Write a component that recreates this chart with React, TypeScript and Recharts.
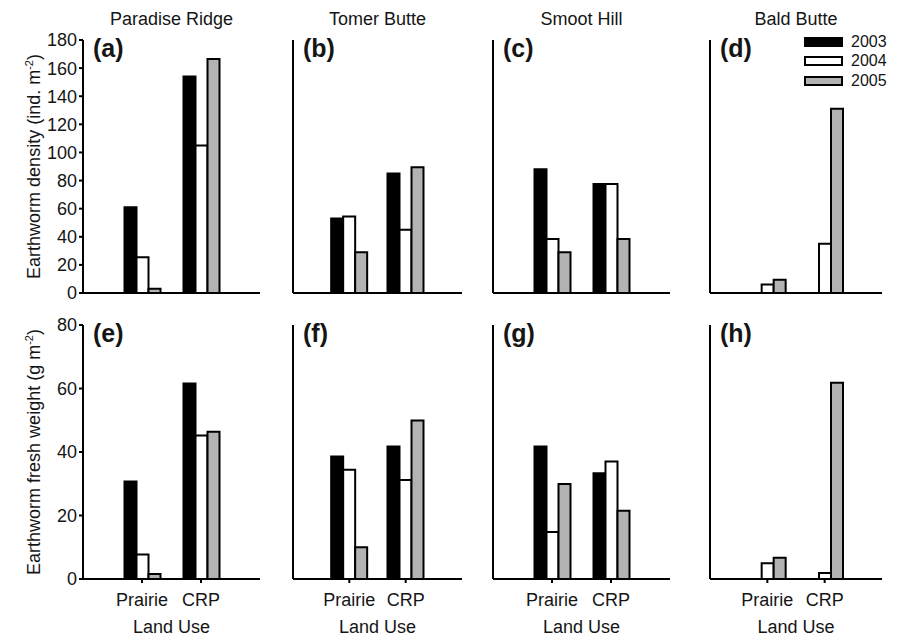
import React from "react";
import { BarChart, Bar, XAxis, YAxis, Legend } from "recharts";

const landUse = ["Prairie", "CRP"];
const sites = ["Paradise Ridge", "Tomer Butte", "Smoot Hill", "Bald Butte"];
const years = ["2003", "2004", "2005"];
const letters = ["a", "b", "c", "d", "e", "f", "g", "h"];

const densityTicks = [0, 20, 40, 60, 80, 100, 120, 140, 160, 180];
const weightTicks = [0, 20, 40, 60, 80];

// earthworm density (ind. m-2), [Prairie, CRP] for each site
const density2003 = [[61, 154], [53, 85], [88, 77.5], [0, 0]];
const density2004 = [[25.5, 105], [54.5, 45], [38.5, 77.5], [6, 35]];
const density2005 = [[3, 166.5], [29, 89.5], [29, 38.5], [9.5, 131]];

// earthworm fresh weight (g m-2)
const weight2003 = [[30.7, 61.6], [38.6, 41.7], [41.7, 33.3], [0, 0]];
const weight2004 = [[7.7, 45.2], [34.4, 31.2], [14.8, 37], [5, 1.9]];
const weight2005 = [[1.6, 46.4], [10, 49.9], [29.9, 21.5], [6.7, 61.8]];

const yearFill = ["#000000", "#ffffff", "#b3b3b3"];
const ink = "#151515";

// layout
const panelX = [83, 293, 493, 710];
const panelW = [177, 169, 177, 172];
const YW = 70;
const MR = 10;

const buildRows = (a: number[][], b: number[][], c: number[][], site: number) =>
  landUse.map((land, i) => ({ land, y2003: a[site][i], y2004: b[site][i], y2005: c[site][i] }));

const yLabel = (main: string) => (props: any) => {
  const vb = props.viewBox || { x: 0, y: 0, height: 0 };
  const cx = vb.x + 27;
  const cy = vb.y + vb.height / 2;
  return (
    <text x={cx} y={cy} transform={`rotate(-90 ${cx} ${cy})`} textAnchor="middle" fontSize={18} fill={ink}>
      {main}
      <tspan dy={-7} fontSize={11}>-2</tspan>
      <tspan dy={7}>)</tspan>
    </text>
  );
};

const legendContent = (props: any) => (
  <div>
    {(props.payload || []).map((entry: any) => (
      <div key={entry.value} style={{ display: "flex", alignItems: "center", height: 19.5 }}>
        <span
          style={{
            display: "inline-block",
            width: 39,
            height: 10,
            boxSizing: "border-box",
            border: "2px solid #000",
            background: entry?.payload?.fill ?? entry.color,
            marginRight: 8,
          }}
        />
        <span style={{ fontSize: 16, color: ink }}>{entry.value}</span>
      </div>
    ))}
  </div>
);

const Panel = ({ row, col }: { row: number; col: number }) => {
  const top = row === 0 ? 30 : 315;
  const plotH = row === 0 ? 253 : 254;
  const xh = row === 0 ? 10 : 60;
  const w = panelW[col];
  const data =
    row === 0
      ? buildRows(density2003, density2004, density2005, col)
      : buildRows(weight2003, weight2004, weight2005, col);
  const ticks = row === 0 ? densityTicks : weightTicks;
  const axisStyle = { stroke: "#000", strokeWidth: 2 };

  return (
    <div style={{ position: "absolute", left: panelX[col] - YW, top }}>
      <BarChart
        width={YW + w + MR}
        height={10 + plotH + xh}
        data={data}
        margin={{ top: 10, right: MR, left: 0, bottom: 0 }}
        barGap={0}
        barSize={12}
      >
        <XAxis
          dataKey="land"
          padding={{ left: w / 6, right: w / 6 }}
          height={xh}
          tickSize={4}
          tickMargin={10}
          tick={row === 1 ? { fill: ink, fontSize: 18 } : false}
          axisLine={axisStyle}
          tickLine={axisStyle}
          label={row === 1 ? { value: "Land Use", position: "insideBottom", offset: 6.5, fill: ink, fontSize: 18 } : undefined}
        />
        <YAxis
          width={YW}
          domain={[0, ticks[ticks.length - 1]]}
          ticks={ticks}
          interval={0}
          tickSize={4}
          tickMargin={2}
          tick={col === 0 ? { fill: ink, fontSize: 18 } : false}
          axisLine={axisStyle}
          tickLine={axisStyle}
          label={col === 0 ? yLabel(row === 0 ? "Earthworm density (ind. m" : "Earthworm fresh weight (g m") : undefined}
        />
        {years.map((y, i) => (
          <Bar key={y} dataKey={"y" + y} name={y} fill={yearFill[i]} stroke="#000" strokeWidth={2} isAnimationActive={false} />
        ))}
        {row === 0 && col === 3 && (
          <Legend
            layout="vertical"
            align="center"
            verticalAlign="middle"
            wrapperStyle={{ left: 164, top: 2, width: "auto" }}
            content={legendContent}
          />
        )}
      </BarChart>
    </div>
  );
};

export default function App() {
  return (
    <div
      style={{
        position: "absolute",
        left: 0,
        top: 0,
        width: 900,
        height: 639,
        background: "#fff",
        fontFamily: "'Liberation Sans', Arial, sans-serif",
      }}
    >
      {[0, 1].map((row) => sites.map((_, col) => <Panel key={row + "-" + col} row={row} col={col} />))}
      <svg width={900} height={639} style={{ position: "absolute", left: 0, top: 0, pointerEvents: "none" }}>
        {sites.map((s, col) => (
          <text key={s} x={panelX[col] + panelW[col] / 2} y={25} textAnchor="middle" fontSize={18} fill={ink}>
            {s}
          </text>
        ))}
        {letters.map((l, i) => (
          <text
            key={l}
            x={panelX[i % 4] + 10}
            y={i < 4 ? 57 : 342}
            fontSize={25}
            fontWeight="bold"
            fill={ink}
          >
            ({l})
          </text>
        ))}
      </svg>
    </div>
  );
}
